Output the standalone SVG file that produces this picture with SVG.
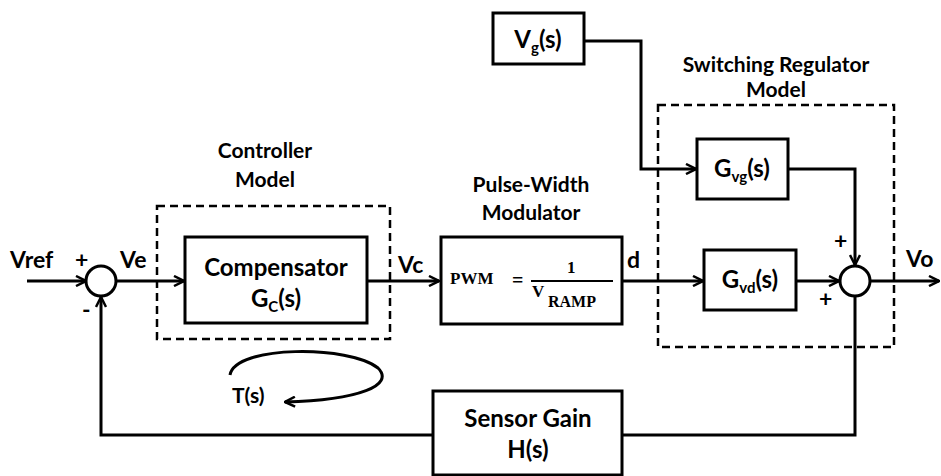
<svg xmlns="http://www.w3.org/2000/svg" width="941" height="476" viewBox="0 0 941 476">
<style>
.box{fill:#fff;stroke:#000;stroke-width:3}
.dash{fill:none;stroke:#000;stroke-width:2.5;stroke-dasharray:8,5}
.ln{fill:none;stroke:#000;stroke-width:3}
.t{font-family:Lato,"Liberation Sans",sans-serif;font-weight:bold;fill:#000}
.b{font-size:24px;text-anchor:middle}
.l{font-size:21px}
.v{font-size:23px}
.s{font-size:15px}
.tm{font-family:"Liberation Serif",serif;font-weight:bold;fill:#000}
</style>
<defs>
<marker id="ar" viewBox="0 0 12 12" refX="11" refY="6" markerWidth="12" markerHeight="12" markerUnits="userSpaceOnUse" orient="auto">
<path d="M1,1 L11,6 L1,11" fill="none" stroke="#000" stroke-width="2.5"/>
</marker>
</defs>
<rect width="941" height="476" fill="#fff"/>
<g id="connectors">
<line class="ln" x1="27" y1="281" x2="86" y2="281" marker-end="url(#ar)"/>
<line class="ln" x1="116" y1="281" x2="184" y2="281" marker-end="url(#ar)"/>
<line class="ln" x1="367" y1="281" x2="439" y2="281" marker-end="url(#ar)"/>
<line class="ln" x1="622" y1="281" x2="703" y2="281" marker-end="url(#ar)"/>
<line class="ln" x1="796" y1="281" x2="839" y2="281" marker-end="url(#ar)"/>
<line class="ln" x1="870" y1="281" x2="939" y2="281" marker-end="url(#ar)"/>
<polyline class="ln" points="584,41 641,41 641,169 696,169" marker-end="url(#ar)"/>
<polyline class="ln" points="788,169 855,169 855,265" marker-end="url(#ar)"/>
<polyline class="ln" points="855,296 855,435 622,435"/>
<polyline class="ln" points="433,435 101,435 101,297" marker-end="url(#ar)"/>
<path class="ln" d="M230,375 C235,345 350,345 378,368 C395,385 360,400 285,402" stroke-width="2.5" marker-end="url(#ar)"/>
</g>
<g id="sum1"><circle cx="101" cy="281" r="15" class="box"/></g>
<g id="sum2"><circle cx="855" cy="281" r="15" class="box"/></g>
<g id="controller-model">
<rect x="157" y="206" width="233" height="133" class="dash"/>
<text class="t l" x="265" y="158" text-anchor="middle">Controller</text>
<text class="t l" x="265" y="187" text-anchor="middle">Model</text>
</g>
<g id="compensator">
<rect x="185" y="237" width="182" height="86" class="box"/>
<text class="t b" x="276" y="276">Compensator</text>
<text class="t b" x="276" y="307">G<tspan class="s" dy="5">C</tspan><tspan dy="-5">(s)</tspan></text>
</g>
<g id="pwm">
<rect x="441" y="237" width="181" height="87" class="box"/>
<text class="tm" x="450" y="284" font-size="17">PWM</text>
<text class="tm" x="512" y="287" font-size="20">=</text>
<text class="tm" x="567" y="273" font-size="17">1</text>
<line x1="531" y1="281" x2="613" y2="281" stroke="#000" stroke-width="2"/>
<text class="tm" x="532" y="297" font-size="17">V</text>
<text class="tm" x="548" y="307" font-size="16">RAMP</text>
<text class="t l" x="531" y="192" text-anchor="middle">Pulse-Width</text>
<text class="t l" x="531" y="220" text-anchor="middle">Modulator</text>
</g>
<g id="switching-model">
<rect x="658" y="105" width="236" height="242" class="dash"/>
<text class="t l" x="776" y="72" text-anchor="middle">Switching Regulator</text>
<text class="t l" x="776" y="97" text-anchor="middle">Model</text>
</g>
<g id="vg">
<rect x="493" y="13" width="91" height="51" class="box"/>
<text class="t b" x="538" y="48">V<tspan class="s" dy="5">g</tspan><tspan dy="-5">(s)</tspan></text>
</g>
<g id="gvg">
<rect x="697" y="139" width="91" height="60" class="box"/>
<text class="t b" x="742" y="177">G<tspan class="s" dy="5">vg</tspan><tspan dy="-5">(s)</tspan></text>
</g>
<g id="gvd">
<rect x="704" y="250" width="92" height="60" class="box"/>
<text class="t b" x="750" y="288">G<tspan class="s" dy="5">vd</tspan><tspan dy="-5">(s)</tspan></text>
</g>
<g id="sensor">
<rect x="433" y="391" width="189" height="84" class="box"/>
<text class="t b" x="528" y="427">Sensor Gain</text>
<text class="t b" x="528" y="458">H(s)</text>
</g>
<g id="labels">
<text class="t v" x="10" y="268">Vref</text>
<text class="t v" x="75" y="268">+</text>
<text class="t v" x="82" y="318">-</text>
<text class="t v" x="120" y="268">Ve</text>
<text class="t v" x="398" y="273">Vc</text>
<text class="t v" x="627" y="268">d</text>
<text class="t v" x="834" y="249">+</text>
<text class="t v" x="819" y="307">+</text>
<text class="t v" x="906" y="267">Vo</text>
<text class="t l" x="232" y="403">T(s)</text>
</g>
</svg>
